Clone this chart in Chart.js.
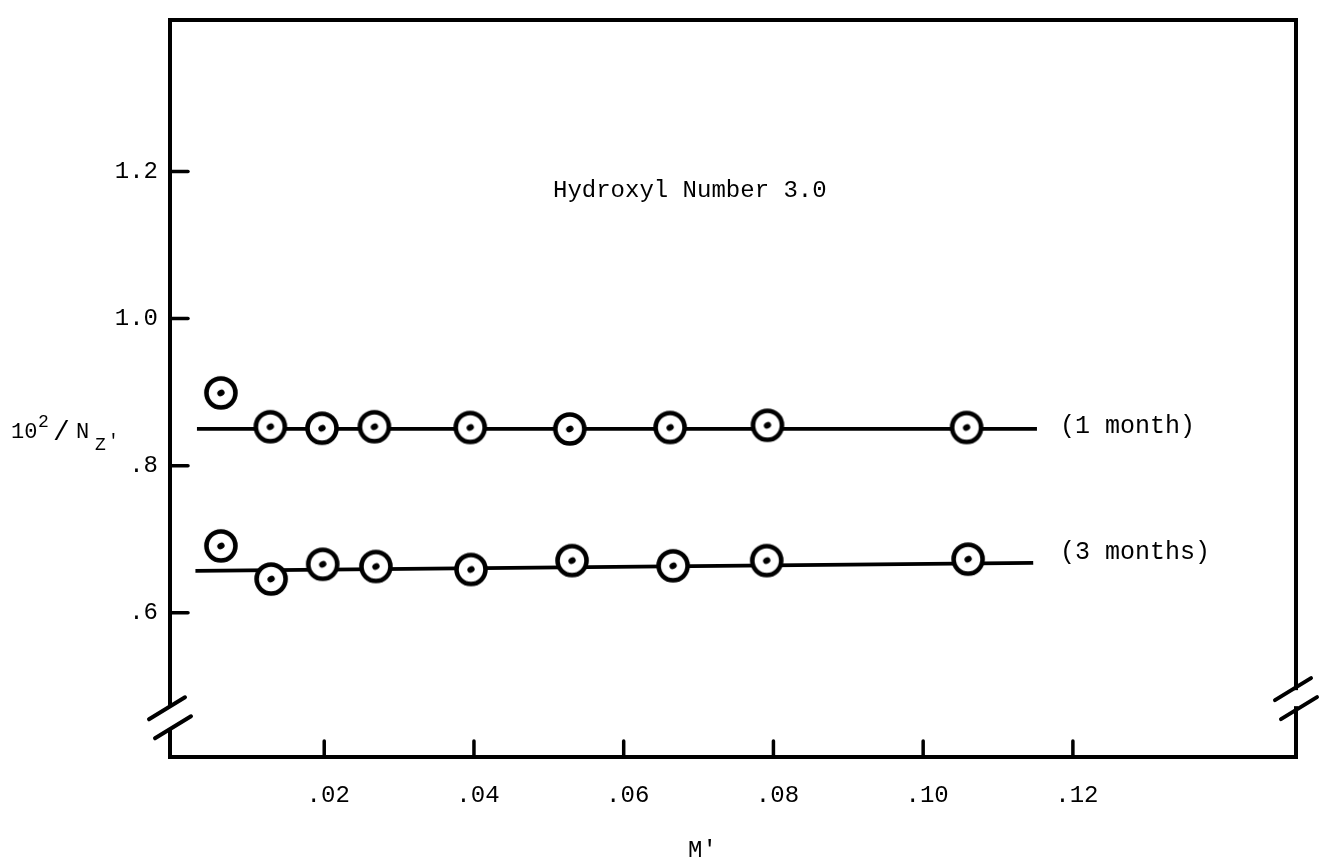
<!DOCTYPE html>
<html>
<head>
<meta charset="utf-8">
<script src="https://cdn.jsdelivr.net/npm/chart.js@4/dist/chart.umd.min.js"></script>
<style>
  body { margin: 0; background: #fff; }
  #wrap { width: 1321px; height: 865px; }
</style>
</head>
<body>
<div id="wrap"><canvas id="chart"></canvas></div>
<script>
// values
const seriesNames = ['(1 month)', '(3 months)'];
const mOneMonth = [0.0062, 0.0128, 0.0197, 0.0267, 0.0395, 0.0528, 0.0662, 0.0792, 0.1058];
const nzOneMonth = [0.899, 0.853, 0.851, 0.853, 0.852, 0.850, 0.852, 0.855, 0.852];
const mThreeMonths = [0.0062, 0.0129, 0.0198, 0.0269, 0.0396, 0.0531, 0.0666, 0.0791, 0.1060];
const nzThreeMonths = [0.691, 0.646, 0.666, 0.663, 0.659, 0.671, 0.664, 0.671, 0.673];
const lineOneX = [0.0030, 0.1152];
const lineOneY = [0.850, 0.850];
const lineThreeX = [0.0028, 0.1147];
const lineThreeY = [0.657, 0.668];
const xTicks = [0.02, 0.04, 0.06, 0.08, 0.10, 0.12];
const yTicks = [0.6, 0.8, 1.0, 1.2];

const FONT = '"Liberation Mono", "DejaVu Sans Mono", monospace';

function pairs(xs, ys) {
    return xs.map((x, i) => ({ x: x, y: ys[i] }));
}

// circled dot marker, drawn once and handed to chart.js as pointStyle
function makeMarker() {
    const c = document.createElement('canvas');
    c.width = 40;
    c.height = 40;
    const g = c.getContext('2d');
    g.beginPath();
    g.arc(20, 20, 14.5, 0, Math.PI * 2);
    g.fillStyle = '#fff';
    g.fill();
    g.lineWidth = 4.6;
    g.strokeStyle = '#000';
    g.stroke();
    g.beginPath();
    g.ellipse(20, 20, 3.8, 3, -0.5, 0, Math.PI * 2);
    g.fillStyle = '#000';
    g.fill();
    return c;
}
const marker = makeMarker();

// frame, inward ticks, axis breaks and the typed labels
const paperPlugin = {
    id: 'paper',
    afterDraw(chart) {
        const ctx = chart.ctx;
        const a = chart.chartArea;
        const xs = chart.scales.x;
        const ys = chart.scales.y;
        ctx.save();
        ctx.strokeStyle = '#000';
        ctx.fillStyle = '#000';
        ctx.lineCap = 'round';

        ctx.lineWidth = 4;
        ctx.strokeRect(a.left, a.top, a.right - a.left, a.bottom - a.top);

        ctx.lineWidth = 3.5;
        yTicks.forEach(v => {
            const py = ys.getPixelForValue(v);
            ctx.beginPath();
            ctx.moveTo(a.left, py);
            ctx.lineTo(a.left + 18, py);
            ctx.stroke();
        });
        xTicks.forEach(v => {
            const px = xs.getPixelForValue(v);
            ctx.beginPath();
            ctx.moveTo(px, a.bottom);
            ctx.lineTo(px, a.bottom - 16);
            ctx.stroke();
        });

        // breaks
        function axisBreak(x, yv, gap, dx) {
            const cy = ys.getPixelForValue(yv);
            ctx.fillStyle = '#fff';
            ctx.fillRect(x - 4, cy - gap / 2, 8, gap);
            ctx.fillStyle = '#000';
            ctx.lineWidth = 4;
            [[-9, -dx], [10, dx]].forEach(o => {
                const sx = x + o[1];
                const sy = cy + o[0];
                ctx.beginPath();
                ctx.moveTo(sx - 18, sy + 11);
                ctx.lineTo(sx + 18, sy - 11);
                ctx.stroke();
            });
        }
        axisBreak(a.left, 0.458, 22, 3);
        axisBreak(a.right, 0.484, 16, 3);

        ctx.textBaseline = 'alphabetic';
        ctx.textAlign = 'left';
        ctx.font = '24px ' + FONT;
        ctx.fillText('Hydroxyl Number 3.0', 553, 197);

        ctx.font = '25px ' + FONT;
        ctx.fillText(seriesNames[0], 1060, 433);
        ctx.fillText(seriesNames[1], 1060, 559);

        // y axis title 10^2/N_Z'
        ctx.font = '22px ' + FONT;
        ctx.fillText('10', 11, 438);
        ctx.font = '18px ' + FONT;
        ctx.fillText('2', 38, 427);
        ctx.font = '28px ' + FONT;
        ctx.fillText('/', 53, 440);
        ctx.font = '22px ' + FONT;
        ctx.fillText('N', 76, 438);
        ctx.font = '18px ' + FONT;
        ctx.fillText('Z', 95, 450);
        ctx.fillText('\'', 108, 446);

        ctx.font = '24px ' + FONT;
        ctx.fillText('M\'', 688, 857);
        ctx.restore();
    }
};

new Chart(document.getElementById('chart'), {
    type: 'scatter',
    data: {
        datasets: [
            {
                label: seriesNames[0],
                data: pairs(mOneMonth, nzOneMonth),
                pointStyle: marker,
                pointRadius: 16,
                showLine: false,
                order: 0
            },
            {
                label: seriesNames[1],
                data: pairs(mThreeMonths, nzThreeMonths),
                pointStyle: marker,
                pointRadius: 16,
                showLine: false,
                order: 0
            },
            {
                label: 'fit 1',
                data: pairs(lineOneX, lineOneY),
                showLine: true,
                borderColor: '#000',
                borderWidth: 3.8,
                pointRadius: 0,
                order: 1
            },
            {
                label: 'fit 3',
                data: pairs(lineThreeX, lineThreeY),
                showLine: true,
                borderColor: '#000',
                borderWidth: 3.8,
                pointRadius: 0,
                order: 1
            }
        ]
    },
    options: {
        responsive: true,
        maintainAspectRatio: false,
        animation: false,
        layout: { padding: { left: 0, right: 25, top: 20, bottom: 0 } },
        plugins: {
            legend: { display: false },
            tooltip: { enabled: false }
        },
        scales: {
            x: {
                type: 'linear',
                min: -0.0006,
                max: 0.1498,
                grid: { display: false },
                border: { display: false },
                afterBuildTicks: s => { s.ticks = xTicks.map(v => ({ value: v })); },
                afterFit: s => { s.height = 108; },
                ticks: {
                    color: '#000',
                    padding: 16,
                    labelOffset: 4,
                    maxRotation: 0,
                    font: { family: FONT, size: 24 },
                    callback: v => v.toFixed(2).replace(/^0/, '')
                }
            },
            y: {
                type: 'linear',
                min: 0.404,
                max: 1.406,
                grid: { display: false },
                border: { display: false },
                afterBuildTicks: s => { s.ticks = yTicks.map(v => ({ value: v })); },
                afterFit: s => { s.width = 170; },
                ticks: {
                    color: '#000',
                    padding: 4,
                    font: { family: FONT, size: 24 },
                    callback: v => v.toFixed(1).replace(/^0/, '')
                }
            }
        }
    },
    plugins: [paperPlugin]
});
</script>
</body>
</html>
